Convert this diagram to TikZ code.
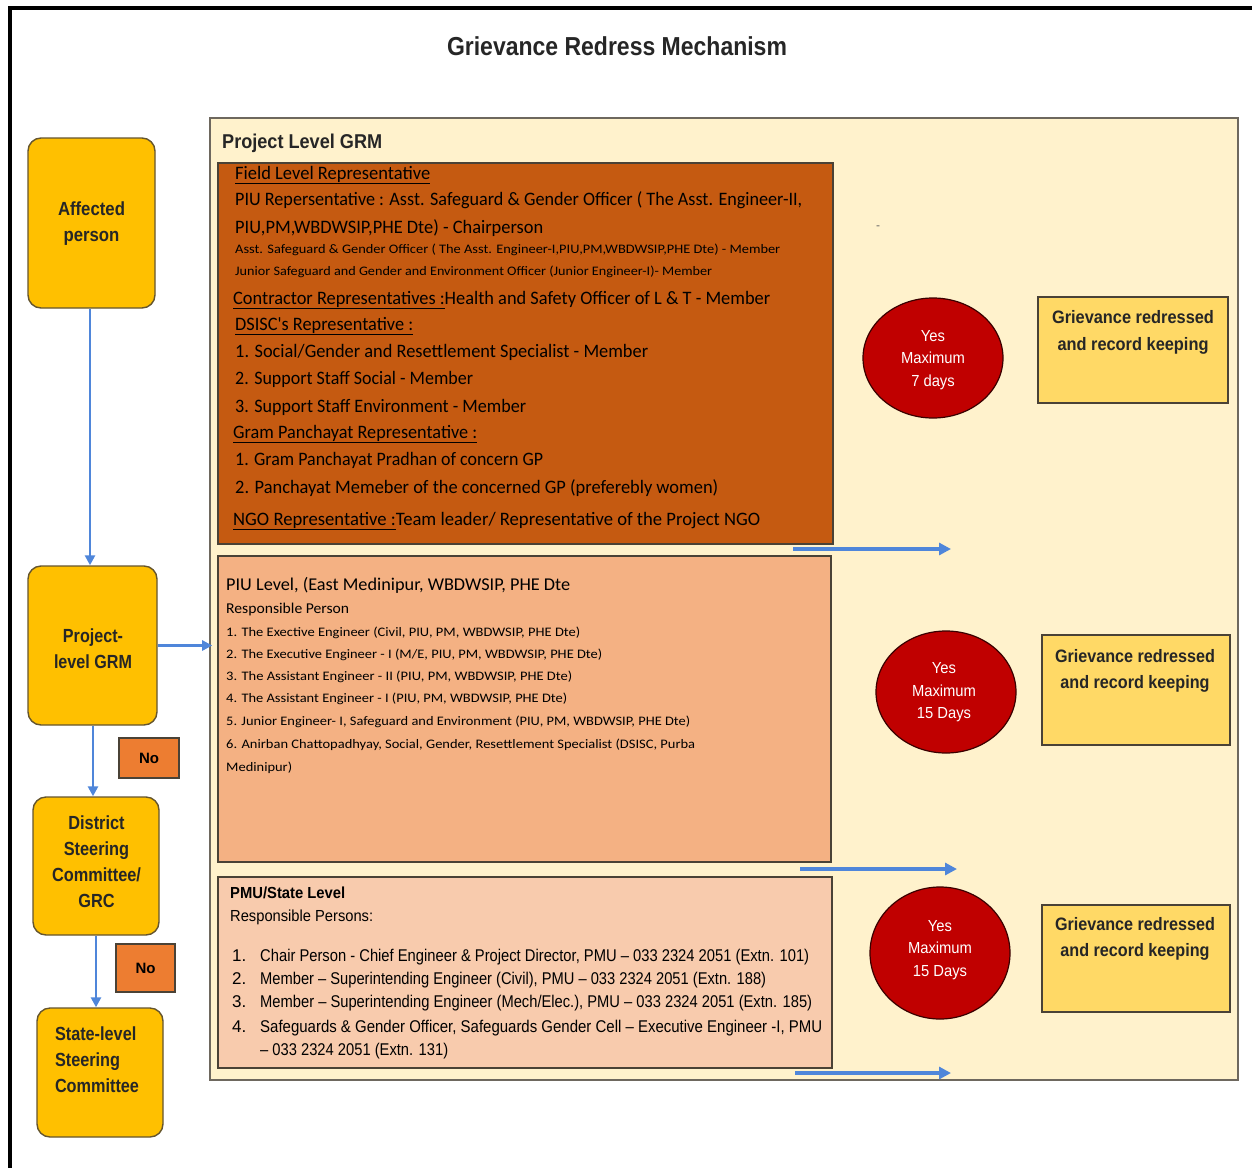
\documentclass[tikz,border=0pt]{standalone}
\usepackage{fontspec}
\setmainfont{Liberation Sans}
\newfontfamily\calfont{Carlito}
\usetikzlibrary{arrows.meta,shapes.geometric}
\definecolor{cream}{HTML}{FFF2CC}
\definecolor{fieldc}{HTML}{C55A11}
\definecolor{piuc}{HTML}{F4B183}
\definecolor{pmuc}{HTML}{F8CBAD}
\definecolor{redc}{HTML}{C00000}
\definecolor{yelc}{HTML}{FFD966}
\definecolor{goldc}{HTML}{FFC000}
\definecolor{noc}{HTML}{ED7D31}
\definecolor{bluec}{HTML}{4F86DA}
\definecolor{edgec}{HTML}{4A4236}
\newsavebox\fitbox
\newlength\fitlen
\newcommand\fitw[2]{\sbox\fitbox{#2}\fitlen=\wd\fitbox\pgfmathsetmacro\fitr{#1/\fitlen}\scalebox{\fitr}[1]{\usebox\fitbox}}
\tikzset{
  box/.style={draw=edgec, line width=1.3pt, rectangle, inner sep=0pt},
  lbox/.style={draw=edgec!85!goldc, line width=1.4pt, fill=goldc, rounded corners=13pt, inner sep=0pt},
  nobox/.style={draw=edgec, line width=1.2pt, fill=noc, inner sep=0pt},
  oval/.style={ellipse, draw=black!70!redc, line width=1.2pt, fill=redc, inner sep=0pt},
  ybox/.style={draw=edgec, line width=1.3pt, fill=yelc, inner sep=0pt},
  ft/.style={anchor=base west, inner sep=0pt, font=\calfont\fontsize{19}{22}\selectfont},
  fs/.style={anchor=base west, inner sep=0pt, font=\calfont\fontsize{13}{16}\selectfont},
  pt/.style={anchor=base west, inner sep=0pt, font=\fontsize{17}{20}\selectfont},
  ltxt/.style={inner sep=0pt, font=\bfseries\fontsize{19}{26}\selectfont, text=black!85},
  otxt/.style={inner sep=0pt, font=\fontsize{16}{22.5}\selectfont, text=white},
  ytxt/.style={inner sep=0pt, font=\bfseries\fontsize{18}{26.5}\selectfont, text=black!85},
  barrow/.style={draw=bluec, line width=3.4pt, -{Triangle[length=12pt,width=12pt]}},
  larrow/.style={draw=bluec, line width=2.8pt, -{Triangle[length=10pt,width=10pt]}},
}
\begin{document}
\begin{tikzpicture}[x=1pt,y=-1pt]
\useasboundingbox (0,0) rectangle (1252,1167);
% outer frame
\coordinate (fa) at (10,8);
\coordinate (fb) at (1252,8);
\coordinate (fc) at (10,1167);
\draw[line width=3.5pt, line cap=rect] (fb) -- (fa) -- (fc);
% title
\node[anchor=base, inner sep=0pt, font=\bfseries\fontsize{26}{30}\selectfont, text=black!85] (title) at (617,55) {\fitw{340}{Grievance Redress Mechanism}};
% project box
\node[box, draw=edgec!80, line width=1.6pt, fill=cream, minimum width=1028pt, minimum height=962pt] (prj) at (724,599) {};
\node[anchor=base west, inner sep=0pt, font=\bfseries\fontsize{20}{24}\selectfont, text=black!85] (prjl) at (222,148) {\fitw{160}{Project Level GRM}};
\node[anchor=base, inner sep=0pt, font=\fontsize{12}{14}\selectfont, text=black!60] (dash) at (878,229) {-};
% level boxes
\node[box, fill=fieldc, minimum width=615pt, minimum height=381pt] (fld) at (525.5,353.5) {};
\node[box, fill=piuc, minimum width=613pt, minimum height=306pt] (piu) at (524.5,709) {};
\node[box, fill=pmuc, minimum width=614pt, minimum height=191pt] (pmu) at (525,972.5) {};
% field text
\node[ft] (f1) at (235,179) {\fitw{195}{\underline{Field Level Representative}}};
\node[ft] (f2) at (235,205) {\fitw{567}{PIU Repersentative : Asst. Safeguard \& Gender Officer ( The Asst. Engineer-II,}};
\node[ft] (f3) at (235,233) {\fitw{308}{PIU,PM,WBDWSIP,PHE Dte) - Chairperson}};
\node[fs] (f4) at (235,253) {\fitw{545}{Asst. Safeguard \& Gender Officer ( The Asst. Engineer-I,PIU,PM,WBDWSIP,PHE Dte) - Member}};
\node[fs] (f5) at (235,275) {\fitw{477}{Junior Safeguard and Gender and Environment Officer (Junior Engineer-I)- Member}};
\node[ft] (f6) at (233,304) {\fitw{537}{\underline{Contractor Representatives :}Health and Safety Officer of L \& T - Member}};
\node[ft] (f7) at (235,330) {\fitw{178}{\underline{DSISC's Representative :}}};
\node[ft] (f8) at (235,357) {\fitw{413}{1. Social/Gender and Resettlement Specialist - Member}};
\node[ft] (f9) at (235,384) {\fitw{238}{2. Support Staff Social - Member}};
\node[ft] (f10) at (235,412) {\fitw{291}{3. Support Staff Environment - Member}};
\node[ft] (f11) at (233,438) {\fitw{244}{\underline{Gram Panchayat Representative :}}};
\node[ft] (f12) at (235,465) {\fitw{308}{1. Gram Panchayat Pradhan of concern GP}};
\node[ft] (f13) at (235,493) {\fitw{483}{2. Panchayat Memeber of the concerned GP (preferebly women)}};
\node[ft] (f14) at (233,525) {\fitw{527}{\underline{NGO Representative :}Team leader/ Representative of the Project NGO}};
% PIU text
\node[ft, font=\calfont\fontsize{18}{22}\selectfont] (p0) at (226,590) {\fitw{344}{PIU Level, (East Medinipur, WBDWSIP, PHE Dte}};
\node[fs, font=\calfont\fontsize{15}{18}\selectfont] (p1) at (226,613) {\fitw{123}{Responsible Person}};
\node[fs] (p2) at (226,636) {\fitw{354}{1. The Exective Engineer (Civil, PIU, PM, WBDWSIP, PHE Dte)}};
\node[fs] (p3) at (226,658) {\fitw{376}{2. The Executive Engineer - I (M/E, PIU, PM, WBDWSIP, PHE Dte)}};
\node[fs] (p4) at (226,680) {\fitw{346}{3. The Assistant Engineer - II (PIU, PM, WBDWSIP, PHE Dte)}};
\node[fs] (p5) at (226,702) {\fitw{341}{4. The Assistant Engineer - I (PIU, PM, WBDWSIP, PHE Dte)}};
\node[fs] (p6) at (226,725) {\fitw{464}{5. Junior Engineer- I, Safeguard and Environment (PIU, PM, WBDWSIP, PHE Dte)}};
\node[fs] (p7) at (226,748) {\fitw{469}{6. Anirban Chattopadhyay, Social, Gender, Resettlement Specialist (DSISC, Purba}};
\node[fs] (p8) at (226,771) {\fitw{66}{Medinipur)}};
% PMU text
\node[pt, font=\bfseries\fontsize{16}{20}\selectfont] (m0) at (230,898) {\fitw{115}{PMU/State Level}};
\node[pt, font=\fontsize{16}{20}\selectfont] (m1) at (230,921) {\fitw{143}{Responsible Persons:}};
\node[pt] (mn1) at (232,961) {1.};
\node[pt] (mn2) at (232,984) {2.};
\node[pt] (mn3) at (232,1007) {3.};
\node[pt] (mn4) at (232,1032) {4.};
\node[pt] (m2) at (260,961) {\fitw{549}{Chair Person - Chief Engineer \& Project Director, PMU – 033 2324 2051 (Extn. 101)}};
\node[pt] (m3) at (260,984) {\fitw{506}{Member – Superintending Engineer (Civil), PMU – 033 2324 2051 (Extn. 188)}};
\node[pt] (m4) at (260,1007) {\fitw{552}{Member – Superintending Engineer (Mech/Elec.), PMU – 033 2324 2051 (Extn. 185)}};
\node[pt] (m5) at (260,1032) {\fitw{562}{Safeguards \& Gender Officer, Safeguards Gender Cell – Executive Engineer -I, PMU}};
\node[pt] (m6) at (260,1055) {\fitw{188}{– 033 2324 2051 (Extn. 131)}};
% ovals
\node[oval, minimum width=140pt, minimum height=120pt] (o1) at (933,358) {};
\node[oval, minimum width=140pt, minimum height=122pt] (o2) at (946,692) {};
\node[oval, minimum width=140pt, minimum height=132pt] (o3) at (940,953) {};
\node[otxt] (ot1) at (933,359) {\fitw{64}{\begin{tabular}{@{}c@{}}Yes\\Maximum\\7 days\end{tabular}}};
\node[otxt] (ot2) at (944,691.5) {\fitw{64}{\begin{tabular}{@{}c@{}}Yes\\Maximum\\15 Days\end{tabular}}};
\node[otxt] (ot3) at (940,949) {\fitw{64}{\begin{tabular}{@{}c@{}}Yes\\Maximum\\15 Days\end{tabular}}};
% yellow boxes
\node[ybox, minimum width=190pt, minimum height=106pt] (y1) at (1133,350) {};
\node[ybox, minimum width=188pt, minimum height=110pt] (y2) at (1136,690) {};
\node[ybox, minimum width=188pt, minimum height=107pt] (y3) at (1136,958.5) {};
\node[ytxt] (yt1) at (1133,331.5) {\fitw{162}{\begin{tabular}{@{}c@{}}Grievance redressed\\and record keeping\end{tabular}}};
\node[ytxt] (yt2) at (1135,670) {\fitw{160}{\begin{tabular}{@{}c@{}}Grievance redressed\\and record keeping\end{tabular}}};
\node[ytxt] (yt3) at (1135,938) {\fitw{160}{\begin{tabular}{@{}c@{}}Grievance redressed\\and record keeping\end{tabular}}};
% blue arrows on right
\coordinate (a1s) at (793,549); \coordinate (a1e) at (951,549);
\coordinate (a2s) at (800,869); \coordinate (a2e) at (957,869);
\coordinate (a3s) at (795,1073); \coordinate (a3e) at (951,1073);
\draw[barrow] (a1s) -- (a1e);
\draw[barrow] (a2s) -- (a2e);
\draw[barrow] (a3s) -- (a3e);
% left boxes
\node[lbox, minimum width=127pt, minimum height=170pt] (ap) at (91.5,223) {};
\node[lbox, minimum width=129pt, minimum height=159pt] (pg) at (92.5,645.5) {};
\node[lbox, minimum width=126pt, minimum height=138pt] (dsc) at (96,866) {};
\node[lbox, minimum width=126pt, minimum height=129pt] (sl) at (100,1072.5) {};
\node[ltxt] (apt) at (91.5,223.5) {\fitw{67}{\begin{tabular}{@{}c@{}}Affected\\person\end{tabular}}};
\node[ltxt] (pgt) at (93,650.5) {\fitw{78}{\begin{tabular}{@{}c@{}}Project-\\level GRM\end{tabular}}};
\node[ltxt] (dsct) at (96.5,863.5) {\fitw{89}{\begin{tabular}{@{}c@{}}District\\Steering\\Committee/\\GRC\end{tabular}}};
\node[ltxt] (slt) at (97,1061) {\fitw{84}{\begin{tabular}{@{}l@{}}State-level\\Steering\\Committee\end{tabular}}};
% no boxes
\node[nobox, minimum width=60pt, minimum height=40pt, font=\bfseries\fontsize{15}{18}\selectfont] (no1) at (149,758) {\fitw{20}{No}};
\node[nobox, minimum width=59pt, minimum height=48pt, font=\bfseries\fontsize{15}{18}\selectfont] (no2) at (145.5,968) {\fitw{20}{No}};
% left arrows
\draw[larrow] ([xshift=-1.5pt]ap.south) -- ([xshift=-1.5pt]ap.south |- pg.north);
\draw[larrow] (pg.east) -- ([xshift=3pt]pg.east -| prj.west);
\draw[larrow] ([xshift=0.5pt]pg.south) -- ([xshift=0.5pt]pg.south |- dsc.north);
\draw[larrow] (dsc.south) -- (dsc.south |- sl.north);
\end{tikzpicture}
\end{document}
